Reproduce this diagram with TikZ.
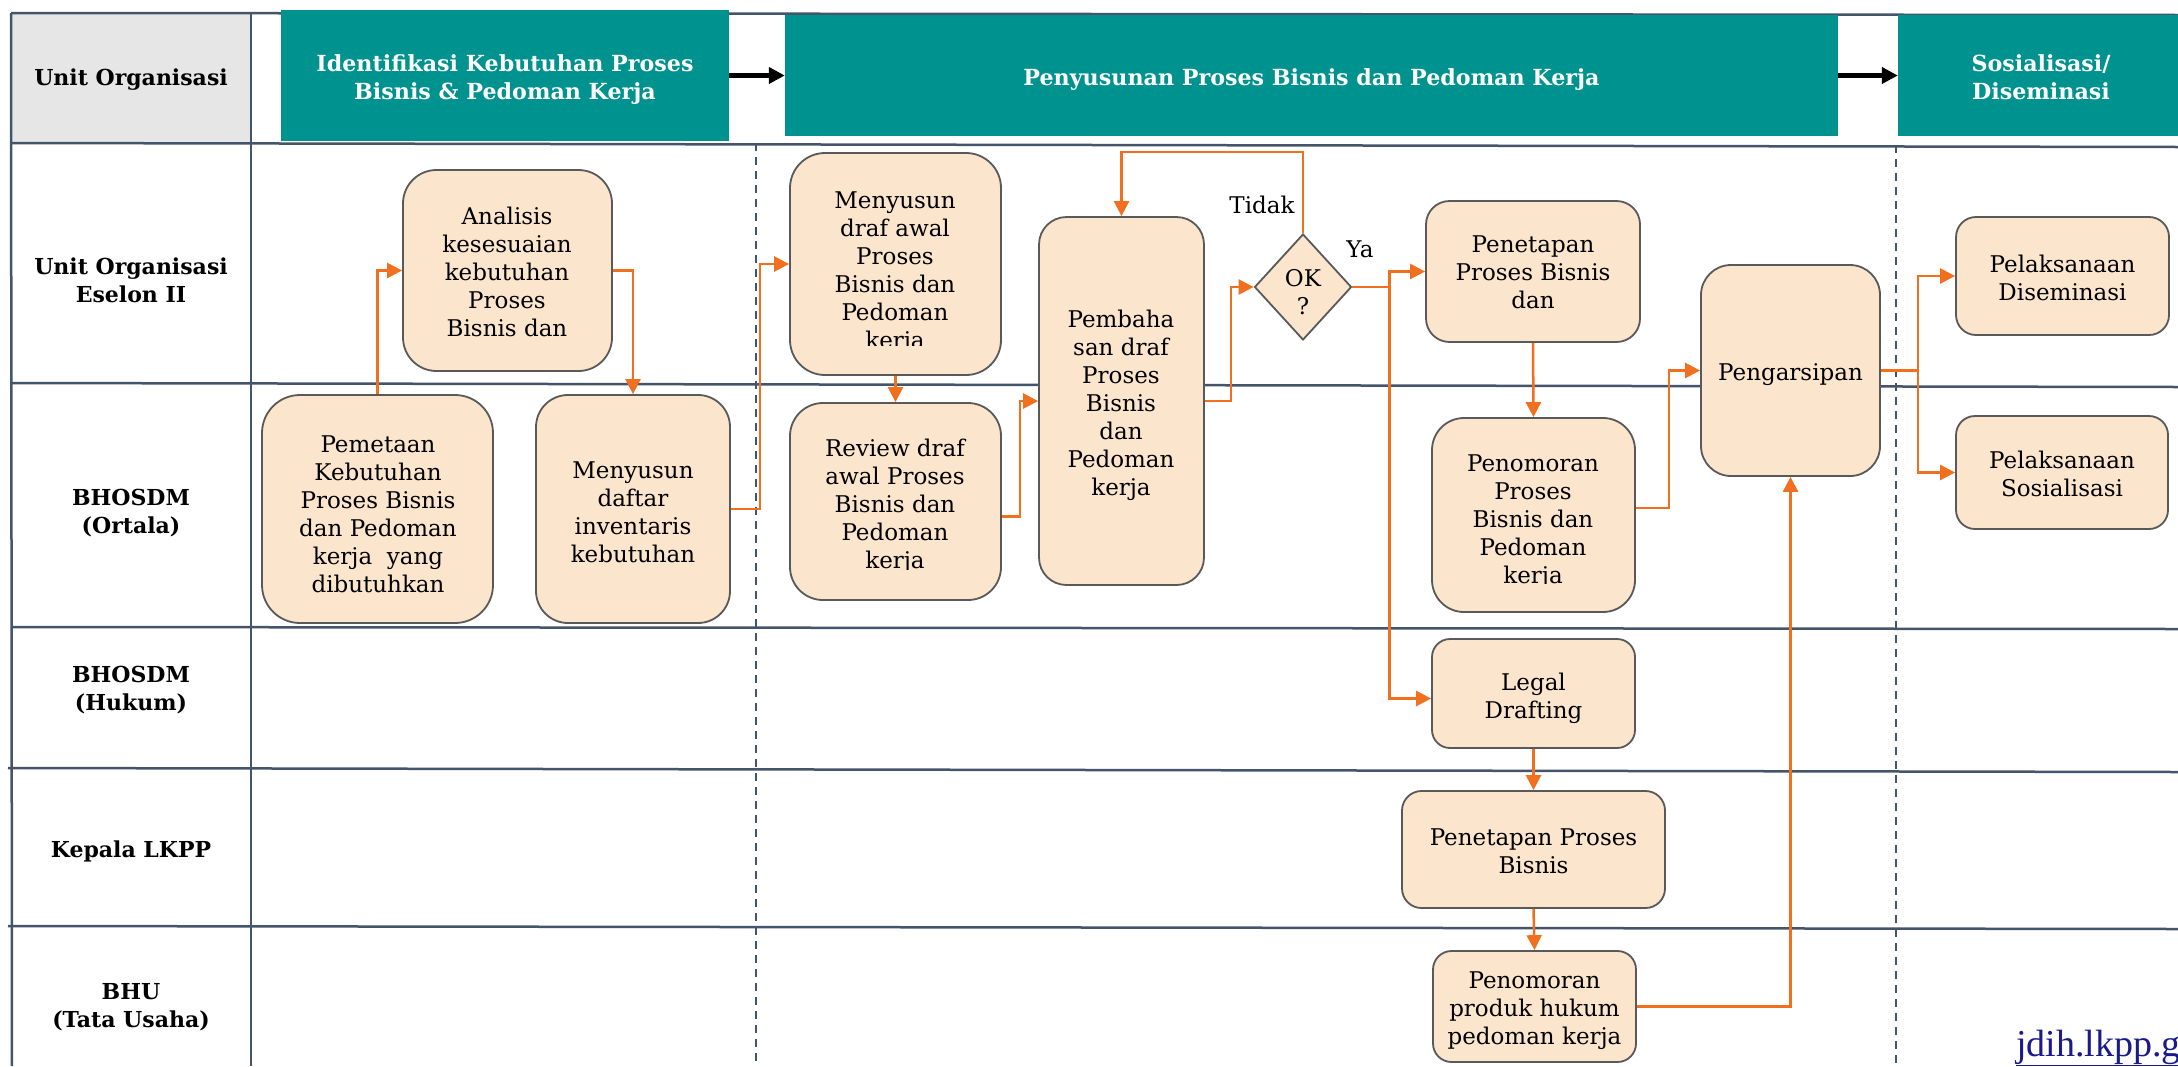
\documentclass[tikz,border=0pt]{standalone}
\usepackage{fontspec}
\setmainfont{DejaVu Serif}
\newfontfamily\linkfont{Liberation Serif}
\usetikzlibrary{arrows.meta,shapes.geometric}

\definecolor{hdrteal}{RGB}{0,146,143}
\definecolor{peach}{RGB}{251,229,205}
\definecolor{boxedge}{RGB}{89,89,89}
\definecolor{flowor}{RGB}{240,112,32}
\definecolor{gridline}{RGB}{68,84,106}
\definecolor{cellgray}{RGB}{230,230,230}
\definecolor{linkblue}{RGB}{26,26,139}

\begin{document}
\begin{tikzpicture}[x=1pt,y=-1pt,
  procbox/.style={draw=boxedge, fill=peach, line width=1.8pt, rounded corners=#1, inner sep=0pt},
  boxtxt/.style={font={\fontsize{23}{28}\selectfont}, align=center, inner sep=0pt, yshift=-3pt},
  lanetxt/.style={font={\bfseries\fontsize{22}{28}\selectfont}, align=center, inner sep=0pt},
  phase/.style={fill=hdrteal, inner sep=0pt},
  phasetxt/.style={text=white, font={\bfseries\fontsize{22.2}{28}\selectfont}, align=center, inner sep=0pt},
  flow/.style={draw=flowor, line width=2.5pt, -{Triangle[length=15pt,width=15pt]}},
  phasearrow/.style={draw=black, line width=5pt, -{Triangle[length=16pt,width=16pt]}},
  lane/.style={draw=gridline, line width=2.5pt},
  divider/.style={draw=gridline, line width=1.6pt, dash pattern=on 8pt off 6pt},
]
\useasboundingbox (0,0) rectangle (2178,1066);
\fill[white] (0,0) rectangle (2178,1066);

% swimlane grid
\fill[cellgray] (11,14) rectangle (251,143);
\draw[lane] (11,13) -- (2178,15);
\draw[lane] (11,143) -- (2178,147);
\draw[lane] (11,383) -- (2178,387);
\draw[lane] (11,627) -- (2178,629);
\draw[lane] (8,768) -- (2178,772);
\draw[lane] (8,926) -- (2178,929);
\draw[lane] (11,13) -- (12,1066);
\draw[lane] (251,13) -- (251,1066);
\draw[divider] (756,143) -- (756,1066);
\draw[divider] (1896,145) -- (1896,1066);

% lane labels
\node[lanetxt] (lHdr) at (131,80) {\strut Unit Organisasi\strut};
\node[lanetxt] (lEs) at (131,283) {\strut Unit Organisasi\\Eselon II\strut};
\node[lanetxt] (lOrt) at (131,514) {\strut BHOSDM\\(Ortala)\strut};
\node[lanetxt] (lHuk) at (131,691) {\strut BHOSDM\\(Hukum)\strut};
\node[lanetxt] (lKep) at (131,852) {\strut Kepala LKPP\strut};
\node[lanetxt] (lBhu) at (131,1008) {\strut BHU\\(Tata Usaha)\strut};

% phases
\node[phase, minimum width=448pt, minimum height=131pt] (ph1) at (505,75.5) {};
\node[phase, minimum width=1053pt, minimum height=121pt] (ph2) at (1311.5,75.5) {};
\node[phase, minimum width=292pt, minimum height=121pt] (ph3) at (2044,75.5) {};
\node[phasetxt] (ph1T) at (505,80) {\strut Identifikasi Kebutuhan Proses\\Bisnis \& Pedoman Kerja\strut};
\node[phasetxt] (ph2T) at (1311.5,80) {\strut Penyusunan Proses Bisnis dan Pedoman Kerja\strut};
\node[phasetxt] (ph3T) at (2041,80) {\strut Sosialisasi/\\Diseminasi\strut};
\draw[phasearrow] (ph1.east) -- (ph2.west);
\draw[phasearrow] (ph2.east) -- (ph3.west);

% process boxes
\node[procbox=33.5pt, minimum width=209pt, minimum height=201pt] (ana) at (507.5,270.5) {};
\node[boxtxt] (anaT) at (507,272) {\strut Analisis\\kesesuaian\\kebutuhan\\Proses\\Bisnis dan\strut};

\node[procbox=38pt, minimum width=231pt, minimum height=228pt] (pem) at (377.5,509) {};
\node[boxtxt] (pemT) at (378,513.5) {\strut Pemetaan\\Kebutuhan\\Proses Bisnis\\dan Pedoman\\kerja\ \ yang\\dibutuhkan\strut};

\node[procbox=32pt, minimum width=194pt, minimum height=228pt] (daf) at (633,509) {};
\node[boxtxt] (dafT) at (633,511.5) {\strut Menyusun\\daftar\\inventaris\\kebutuhan\strut};

\node[procbox=35pt, minimum width=211pt, minimum height=222pt] (draf) at (895.5,264) {};
\begin{scope}
  \clip (790,153) rectangle (1001,345);
  \node[boxtxt] (drafT) at (895,270) {\strut Menyusun\\draf awal\\Proses\\Bisnis dan\\Pedoman\\kerja\strut};
\end{scope}

\node[procbox=33pt, minimum width=211pt, minimum height=197pt] (rev) at (895.5,501.5) {};
\begin{scope}
  \clip (790,403) rectangle (1001,569);
  \node[boxtxt] (revT) at (895,504) {\strut Review draf\\awal Proses\\Bisnis dan\\Pedoman\\kerja\strut};
\end{scope}

\node[procbox=27.5pt, minimum width=165pt, minimum height=368pt] (bahas) at (1121.5,401) {};
\node[boxtxt] (bahasT) at (1121,403) {\strut Pembaha\\san draf\\Proses\\Bisnis\\dan\\Pedoman\\kerja\strut};

\node[diamond, draw=boxedge, fill=peach, line width=1.8pt, minimum width=97pt, minimum height=106pt, inner sep=0pt] (ok) at (1303,287) {};
\node[boxtxt] (okT) at (1303,291.5) {\strut OK\\?\strut};
\node[boxtxt] (tidak) at (1262,205) {\strut Tidak\strut};
\node[boxtxt] (ya) at (1360,249) {\strut Ya\strut};

\node[procbox=23.5pt, minimum width=214pt, minimum height=141pt] (tetap) at (1533,271.5) {};
\node[boxtxt] (tetapT) at (1533,272) {\strut Penetapan\\Proses Bisnis\\dan\strut};

\node[procbox=32pt, minimum width=203pt, minimum height=194pt] (nomor) at (1533.5,515) {};
\begin{scope}
  \clip (1432,418) rectangle (1635,583);
  \node[boxtxt] (nomorT) at (1533,519) {\strut Penomoran\\Proses\\Bisnis dan\\Pedoman\\kerja\strut};
\end{scope}

\node[procbox=30pt, minimum width=179pt, minimum height=211pt] (arsip) at (1790.5,370.5) {};
\node[boxtxt] (arsipT) at (1790.5,372) {\strut Pengarsipan\strut};

\node[procbox=20pt, minimum width=213pt, minimum height=118pt] (dis) at (2062.5,276) {};
\node[boxtxt] (disT) at (2062.5,277.5) {\strut Pelaksanaan\\Diseminasi\strut};

\node[procbox=19pt, minimum width=212pt, minimum height=113pt] (sos) at (2062,472.5) {};
\node[boxtxt] (sosT) at (2062,474) {\strut Pelaksanaan\\Sosialisasi\strut};

\node[procbox=18pt, minimum width=203pt, minimum height=109pt] (legal) at (1533.5,693.5) {};
\node[boxtxt] (legalT) at (1533.5,695.5) {\strut Legal\\Drafting\strut};

\node[procbox=19.5pt, minimum width=263pt, minimum height=117pt] (tetapk) at (1533.5,849.5) {};
\node[boxtxt] (tetapkT) at (1533.5,851) {\strut Penetapan Proses\\Bisnis\strut};

\node[procbox=18.5pt, minimum width=203pt, minimum height=111pt] (nomork) at (1534.5,1006.5) {};
\node[boxtxt] (nomorkT) at (1534.5,1008) {\strut Penomoran\\produk hukum\\pedoman kerja\strut};

% connectors
\draw[flow] (pem.north) |- (ana.west);
\draw[flow] (ana.east) -| (daf.north);
\draw[flow] (daf.east) -- ++(29,0) |- (draf.west);
\draw[flow] (draf.south) -- (rev.north);
\draw[flow] ([yshift=-15pt]rev.east) -- ++(18,0) |- (bahas.west);
\draw[flow] (bahas.east) -- ++(26,0) |- (ok.west);
\draw[flow] (ok.north) -- ++(0,-81) -| (bahas.north);
\draw[flow] (ok.east) -- ++(37,0) |- (tetap.west);
\draw[flow] (ok.east) -- ++(37,0) |- ([yshift=-5pt]legal.west);
\draw[flow] (tetap.south) -- (nomor.north);
\draw[flow] ([yshift=7pt]nomor.east) -- ++(33,0) |- (arsip.west);
\draw[flow] (legal.south) -- (tetapk.north);
\draw[flow] (tetapk.south) -- (nomork.north);
\draw[flow] (nomork.east) -| (arsip.south);
\draw[flow] (arsip.east) -- ++(37,0) |- (dis.west);
\draw[flow] (arsip.east) -- ++(37,0) |- (sos.west);

% source link
\node[font={\linkfont\fontsize{38}{42}\selectfont}, text=linkblue, anchor=base west, inner sep=0pt] (link) at (2016,1056) {\underline{jdih.lkpp.g}};
\end{tikzpicture}
\end{document}
